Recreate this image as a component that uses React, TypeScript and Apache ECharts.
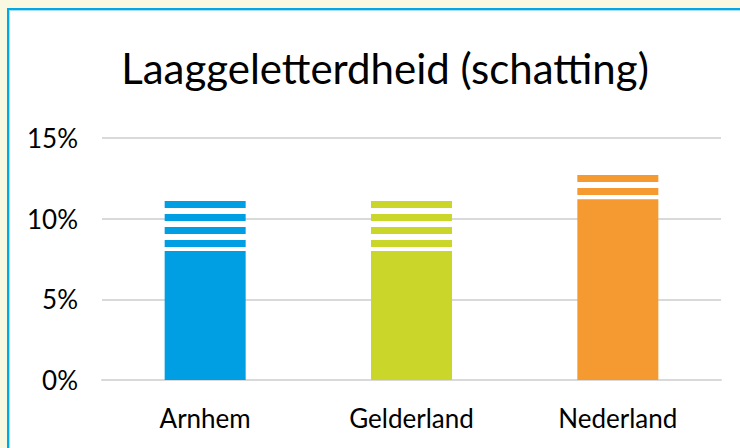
import React, { useEffect, useRef } from "react";
import * as echarts from "echarts";

const categories = ["Arnhem", "Gelderland", "Nederland"];
const lowValues = [8.0, 8.0, 11.2];
const highValues = [11.1, 11.1, 12.8];
const barColors = ["#009fe3", "#cbd62a", "#f49a30"];
const yTicks = [0, 5, 10, 15];
const titleText = "Laaggeletterdheid (schatting)";

const FONT = "Lato, 'Open Sans', sans-serif";

export default function App() {
  const ref = useRef<HTMLDivElement>(null);

  useEffect(() => {
    if (!ref.current) return;
    const chart = echarts.init(ref.current, null, { renderer: "svg" });
    const BAR_W = 81;
    const PERIOD = 13;
    const THICK = 7;
    const PHASE = 6;

    chart.setOption({
      animation: false,
      backgroundColor: "transparent",
      graphic: [
        {
          type: "text",
          x: 385,
          y: 68,
          style: {
            text: titleText,
            font: `42px ${FONT}`,
            fill: "#000",
            textAlign: "center",
            textVerticalAlign: "middle",
          },
        },
      ],
      grid: { left: 102, right: 19, top: 138, bottom: 68 },
      xAxis: {
        type: "category",
        data: categories,
        axisLine: { show: true, lineStyle: { color: "#d9d9d9", width: 2 } },
        axisTick: { show: false },
        axisLabel: { color: "#000", fontFamily: FONT, fontSize: 26, margin: 25 },
      },
      yAxis: {
        type: "value",
        min: yTicks[0],
        max: yTicks[yTicks.length - 1],
        interval: 5,
        axisLine: { show: false },
        axisTick: { show: false },
        splitLine: { lineStyle: { color: "#d9d9d9", width: 2 } },
        axisLabel: {
          color: "#000",
          fontFamily: FONT,
          fontSize: 26,
          margin: 24,
          formatter: (v: number) => `${v}%`,
        },
      },
      series: [
        {
          type: "bar",
          barWidth: BAR_W,
          data: lowValues.map((v, i) => ({ value: v, itemStyle: { color: barColors[i] } })),
        },
        {
          type: "custom",
          data: categories.map((_, i) => [i, lowValues[i], highValues[i]]),
          renderItem: (params: any, api: any) => {
            const idx = api.value(0);
            const lo = api.value(1);
            const hi = api.value(2);
            const pTop = api.coord([idx, hi]);
            const pBot = api.coord([idx, lo]);
            const x = pTop[0] - BAR_W / 2;
            const children: any[] = [];
            let s = Math.floor((pTop[1] - PHASE) / PERIOD) * PERIOD + PHASE;
            for (; s < pBot[1]; s += PERIOD) {
              const y0 = Math.max(s, pTop[1]);
              const y1 = Math.min(s + THICK, pBot[1]);
              if (y1 > y0) {
                children.push({
                  type: "rect",
                  shape: { x, y: y0, width: BAR_W, height: y1 - y0 },
                  style: { fill: barColors[params.dataIndex] },
                });
              }
            }
            return { type: "group", children };
          },
        },
      ],
    });
    return () => chart.dispose();
  }, []);

  return (
    <div style={{ position: "fixed", left: 0, top: 0, width: 740, height: 448, background: "#f9f8e1", overflow: "hidden" }}>
      <div
        style={{
          position: "absolute",
          left: 7,
          top: 8,
          width: 780,
          height: 480,
          background: "#fff",
          borderTop: "2px solid #00a8e8",
          borderLeft: "2px solid #00a8e8",
          boxShadow: "inset 1px 1px 0 #a9dff5",
        }}
      />
      <div ref={ref} style={{ position: "absolute", left: 0, top: 0, width: 740, height: 448 }} />
    </div>
  );
}
